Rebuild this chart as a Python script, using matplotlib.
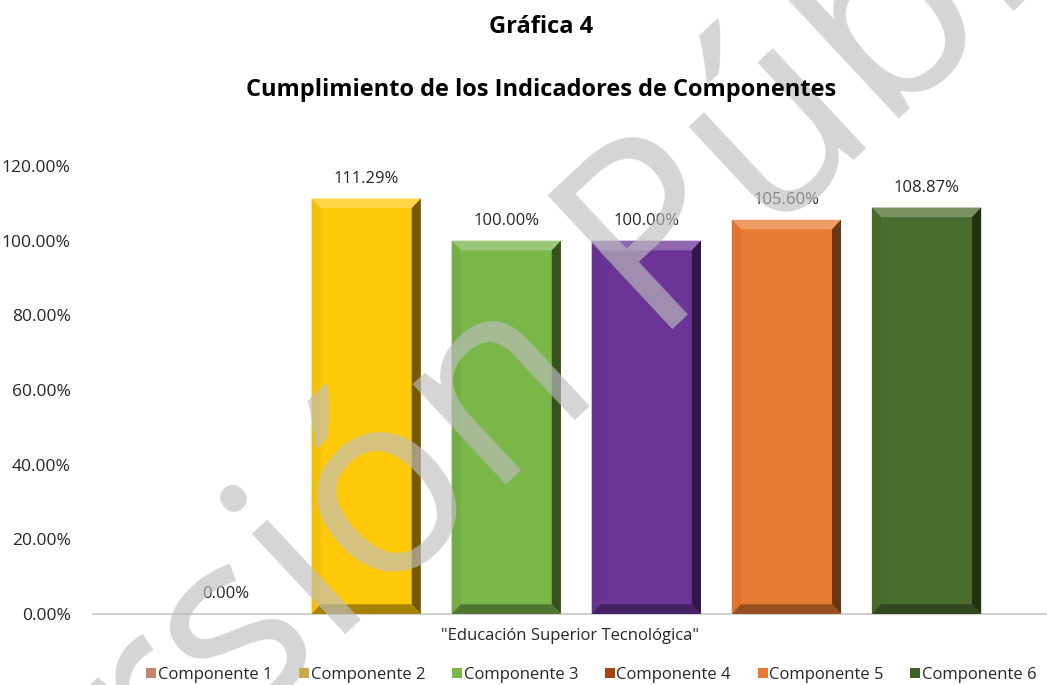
import numpy as np
import matplotlib.pyplot as plt
from matplotlib.patches import Polygon, Patch

plt.rcParams['font.family'] = ['Open Sans', 'DejaVu Sans']

componentes = ['Componente 1', 'Componente 2', 'Componente 3',
               'Componente 4', 'Componente 5', 'Componente 6']
valores = [0.0, 111.29, 100.00, 100.00, 105.60, 108.87]
colores = ['#C4876A', '#FFC90A', '#7AB648', '#6A3596', '#E97A31', '#4B6E2E']
colores_leyenda = ['#C4876A', '#C9A94A', '#7AB648', '#A5460F', '#E97A31', '#3F6128']
categoria = '"Educación Superior Tecnológica"'
yticks = [0, 20, 40, 60, 80, 100, 120]


def shade(c, f):
    c = np.array(plt.matplotlib.colors.to_rgb(c))
    if f > 0:
        return tuple(c + (1 - c) * f)
    return tuple(c * (1 + f))


fig = plt.figure(figsize=(10.47, 6.85), dpi=100)
ax = fig.add_axes([93 / 1047, 1 - 614 / 685, 1 - 93 / 1047, (614 - 166) / 685])

x = np.arange(len(valores))
w = 0.78
ax.bar(x, valores, width=w, color=colores, zorder=2)

# bevel effect
bx, by = 0.065, 2.6
for xi, v, c in zip(x, valores, colores):
    if v <= 0:
        continue
    l, r = xi - w / 2, xi + w / 2
    top = Polygon([(l, v), (r, v), (r - bx, v - by), (l + bx, v - by)],
                  color=shade(c, 0.25), zorder=3, lw=0)
    right = Polygon([(r, v), (r, 0), (r - bx, by), (r - bx, v - by)],
                    color=shade(c, -0.55), zorder=3, lw=0)
    left = Polygon([(l, v), (l, 0), (l + bx, by), (l + bx, v - by)],
                   color=shade(c, -0.05), zorder=3, lw=0)
    bot = Polygon([(l, 0), (r, 0), (r - bx, by), (l + bx, by)],
                  color=shade(c, -0.35), zorder=3, lw=0)
    for p in (top, right, left, bot):
        ax.add_patch(p)

for xi, v in zip(x, valores):
    ax.text(xi, v + 3.2, f'{v:.2f}%', ha='center', va='bottom',
            fontsize=12, color='#262626', zorder=4)

ax.set_xlim(-0.95, 5.86)
ax.set_ylim(0, 120)
ax.set_yticks(yticks)
ax.set_yticklabels([f'{t:.2f}%' for t in yticks], fontsize=12.5, color='#262626')
ax.tick_params(axis='y', length=0, pad=16)
ax.set_xticks([])
for s in ['top', 'right', 'left']:
    ax.spines[s].set_visible(False)
ax.spines['bottom'].set_color('#D0D0D0')
ax.spines['bottom'].set_linewidth(1.5)

ax.text(0.5, -0.048, categoria, transform=ax.transAxes, ha='center',
        va='center', fontsize=12, color='#262626')

fig.text(0.517, 1 - 27 / 685, 'Gráfica 4', ha='center', va='center',
         fontsize=17, fontweight='bold', color='black')
fig.text(0.517, 1 - 90 / 685, 'Cumplimiento de los Indicadores de Componentes',
         ha='center', va='center', fontsize=17, fontweight='bold', color='black')

handles = [Patch(facecolor=c, label=n) for c, n in zip(colores_leyenda, componentes)]
fig.legend(handles=handles, loc='center', bbox_to_anchor=(0.565, 1 - 675 / 685),
           ncol=6, frameon=False, fontsize=12, handlelength=0.6, handleheight=0.6,
           handletextpad=0.1, columnspacing=1.6, labelcolor='#262626')

# watermark
fig.text(0.545, 0.515, 'Versión Pública', rotation=43, ha='center', va='center',
         fontsize=185, color='#BFBFBF', alpha=0.65, zorder=0)

fig.savefig('out.png', dpi=100)
